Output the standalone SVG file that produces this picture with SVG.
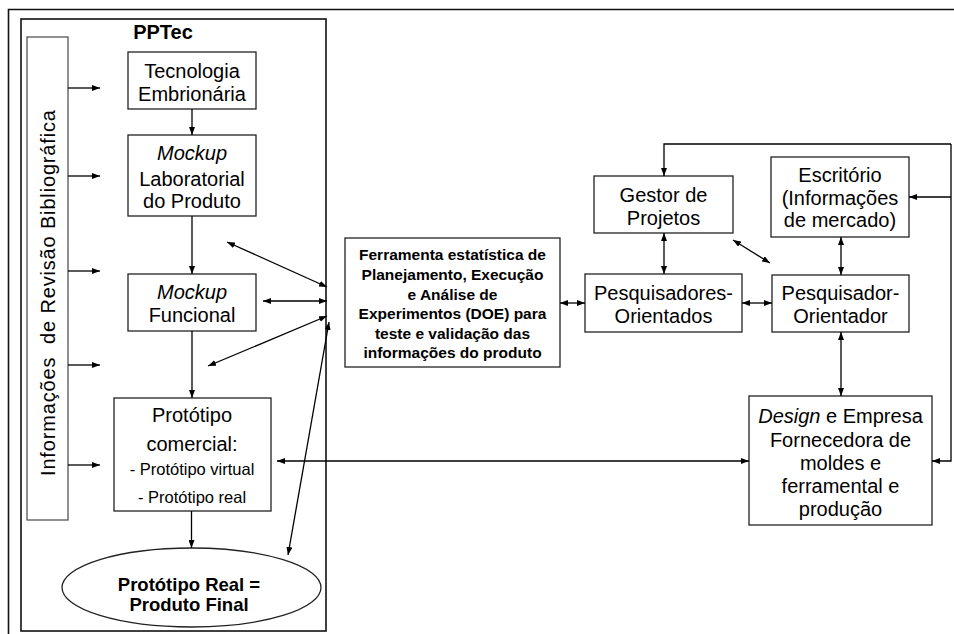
<svg xmlns="http://www.w3.org/2000/svg" width="954" height="634" viewBox="0 0 954 634">
  <defs>
    <marker id="arr" viewBox="0 0 8 6" refX="8" refY="3" markerWidth="8" markerHeight="6" markerUnits="userSpaceOnUse" orient="auto-start-reverse">
      <path d="M0,0 L8,3 L0,6 z" fill="#000"/>
    </marker>
    <style>
      .frame { fill: none; stroke: #111; stroke-width: 1.6; }
      .box { fill: #fff; stroke: #222; stroke-width: 1.3; }
      .side { fill: #fff; stroke: #555; stroke-width: 1.3; }
      .t { font-family: "Liberation Sans", Arial, sans-serif; font-size: 20px; fill: #000; text-anchor: middle; }
      .s { font-size: 16.5px; }
      .b { font-weight: bold; }
      .doe { font-family: "Liberation Sans", Arial, sans-serif; font-size: 15.5px; font-weight: bold; fill: #000; text-anchor: middle; }
      .i { font-style: italic; }
      .c { fill: none; stroke: #000; stroke-width: 1.3; }
      .one { marker-end: url(#arr); }
      .two { marker-start: url(#arr); marker-end: url(#arr); }
    </style>
  </defs>

  <!-- outer and PPTec frames -->
  <g id="frames">
    <path class="frame" d="M954,9.5 H8.5 V634"/>
    <rect class="frame" x="21" y="19" width="305" height="612"/>
    <text class="t b" x="163" y="39">PPTec</text>
  </g>

  <g id="revisao">
    <rect class="side" x="27" y="37" width="41" height="483"/>
    <text class="t" transform="translate(55,293) rotate(-90)" textLength="366" lengthAdjust="spacing" xml:space="preserve">Informações  de Revisão Bibliográfica</text>
  </g>

  <g id="tecnologia">
    <rect class="box" x="128" y="52" width="128" height="57"/>
    <text class="t" x="192" y="78">Tecnologia</text>
    <text class="t" x="192" y="101">Embrionária</text>
  </g>

  <g id="mockup-lab">
    <rect class="box" x="128" y="135" width="128" height="81"/>
    <text class="t i" x="192" y="160">Mockup</text>
    <text class="t" x="192" y="186">Laboratorial</text>
    <text class="t" x="192" y="208">do Produto</text>
  </g>

  <g id="mockup-funcional">
    <rect class="box" x="128" y="274" width="128" height="57"/>
    <text class="t i" x="192" y="299">Mockup</text>
    <text class="t" x="192" y="322">Funcional</text>
  </g>

  <g id="prototipo">
    <rect class="box" x="114" y="398" width="157" height="113"/>
    <text class="t" x="192" y="422">Protótipo</text>
    <text class="t" x="192" y="451">comercial:</text>
    <text class="t s" x="192" y="475">- Protótipo virtual</text>
    <text class="t s" x="192" y="503">- Protótipo real</text>
  </g>

  <g id="produto-final">
    <ellipse class="box" cx="191.5" cy="587.5" rx="129.5" ry="39.5"/>
    <text class="t b" style="font-size:18.5px" x="189" y="591">Protótipo Real =</text>
    <text class="t b" style="font-size:18.5px" x="189" y="611">Produto Final</text>
  </g>

  <g id="doe">
    <rect class="box" x="345" y="238" width="215" height="129"/>
    <text class="doe" x="452.5" y="260">Ferramenta estatística de</text>
    <text class="doe" x="452.5" y="280">Planejamento, Execução</text>
    <text class="doe" x="452.5" y="300">e Análise de</text>
    <text class="doe" x="452.5" y="319">Experimentos (DOE) para</text>
    <text class="doe" x="452.5" y="339">teste e validação das</text>
    <text class="doe" x="452.5" y="358">informações do produto</text>
  </g>

  <g id="gestor">
    <rect class="box" x="594" y="176" width="139" height="57"/>
    <text class="t" x="663.5" y="202">Gestor de</text>
    <text class="t" x="663.5" y="225">Projetos</text>
  </g>

  <g id="escritorio">
    <rect class="box" x="771" y="157" width="138" height="80"/>
    <text class="t" x="840" y="182">Escritório</text>
    <text class="t" x="840" y="205">(Informações</text>
    <text class="t" x="840" y="227">de mercado)</text>
  </g>

  <g id="pesquisadores">
    <rect class="box" x="585" y="274" width="157" height="58"/>
    <text class="t" x="663.5" y="300">Pesquisadores-</text>
    <text class="t" x="663.5" y="323">Orientados</text>
  </g>

  <g id="orientador">
    <rect class="box" x="772" y="275" width="137" height="57"/>
    <text class="t" x="840.5" y="300">Pesquisador-</text>
    <text class="t" x="840.5" y="323">Orientador</text>
  </g>

  <g id="design">
    <rect class="box" x="749" y="396" width="183" height="129"/>
    <text class="t" x="840.5" y="423"><tspan class="i">Design</tspan> e Empresa</text>
    <text class="t" x="840.5" y="447">Fornecedora de</text>
    <text class="t" x="840.5" y="470">moldes e</text>
    <text class="t" x="840.5" y="493">ferramental e</text>
    <text class="t" x="840.5" y="516">produção</text>
  </g>

  <g id="connectors">
    <!-- literature review feeds -->
    <path class="c one" d="M68,88 H100"/>
    <path class="c one" d="M68,176 H100"/>
    <path class="c one" d="M68,271 H100"/>
    <path class="c one" d="M68,365 H100"/>
    <path class="c one" d="M68,465 H100"/>
    <!-- PPTec sequence -->
    <path class="c one" d="M192,109 V135"/>
    <path class="c one" d="M192,216 V274"/>
    <path class="c one" d="M192,331 V398"/>
    <path class="c one" d="M191.5,511 V548"/>
    <!-- frame to DOE links -->
    <path class="c two" d="M227,242 L327,287"/>
    <path class="c two" d="M263,301 H327"/>
    <path class="c two" d="M208,366 L327,316"/>
    <path class="c two" d="M288,555 L329,322"/>
    <path class="c two" d="M277,461 H749"/>
    <!-- right cluster -->
    <path class="c two" d="M560,303 H585"/>
    <path class="c two" d="M742,303 H772"/>
    <path class="c two" d="M664,233 V274"/>
    <path class="c two" d="M841,237 V275"/>
    <path class="c two" d="M733,240 L770,263"/>
    <path class="c two" d="M841,332 V396"/>
    <!-- feedback loop -->
    <path class="c one" d="M951,144 H664 V176"/>
    <path class="c one" d="M951,144 V461 H932"/>
    <path class="c one" d="M951,197 H909"/>
  </g>
</svg>
